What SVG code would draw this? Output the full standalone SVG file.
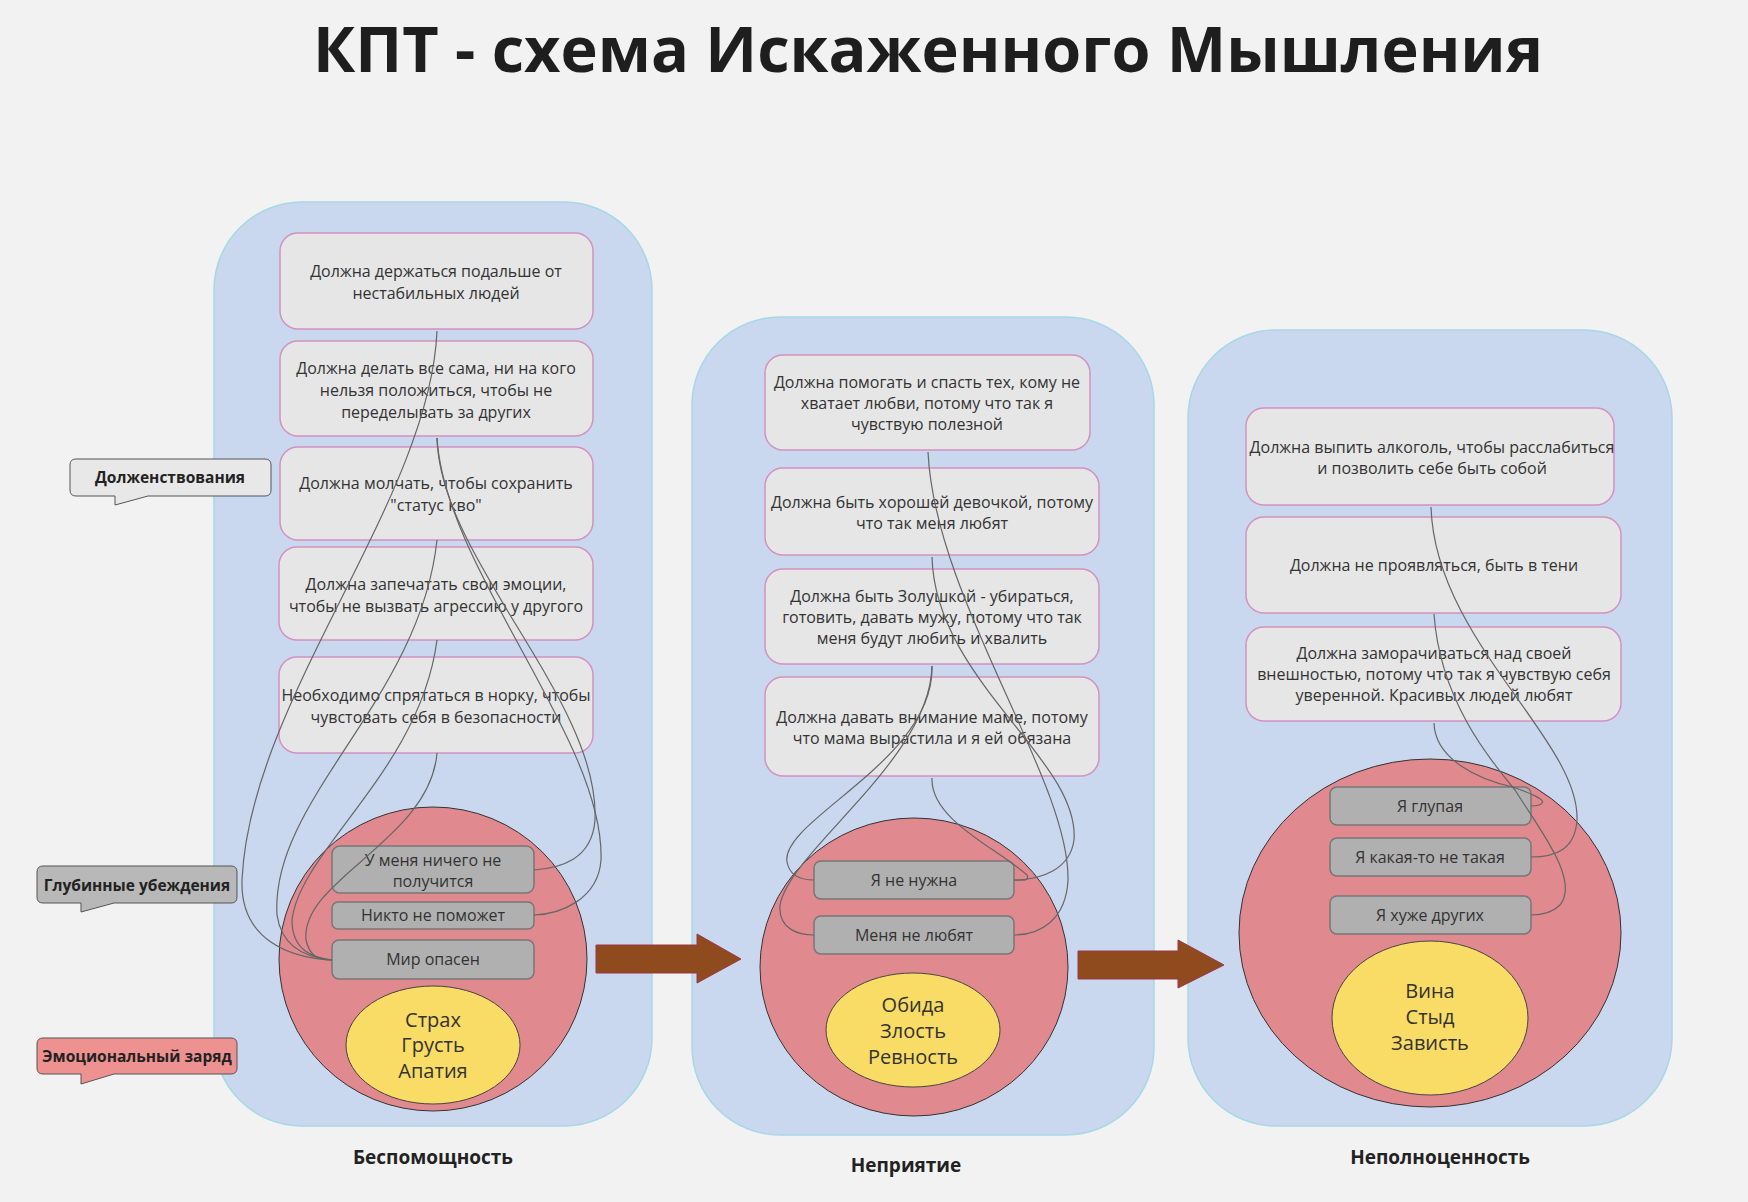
<svg xmlns="http://www.w3.org/2000/svg" width="1748" height="1202" viewBox="0 0 1748 1202">
<style>
text{font-family:"Open Sans","Noto Sans",sans-serif;fill:#333}
.t{font-size:16px;text-anchor:middle}
.g{font-size:16px;text-anchor:middle;fill:#333}
.y{font-size:20px;text-anchor:middle;fill:#333}
.lb{font-size:19px;font-weight:bold;text-anchor:middle;fill:#222}
.cl{font-size:15.5px;font-weight:bold;text-anchor:middle;fill:#222}
.cont{fill:#c9d8ef;stroke:#a6d8e6;stroke-width:1.5}
.box{fill:#e6e6e6;stroke:#d391c0;stroke-width:1.5}
.gb{fill:#b0b0b0;stroke:#777;stroke-width:1.5}
.re{fill:#e0898e;stroke:#333;stroke-width:1}
.ye{fill:#f9dc66;stroke:#444;stroke-width:1}
.ar{fill:#8f4b1e;stroke:#a0344a;stroke-width:1}
.c path{fill:none;stroke:#666;stroke-width:1.2}
</style>
<rect width="1748" height="1202" fill="#f2f2f2"/>
<text x="928" y="72" style="font-size:63px;font-weight:bold;text-anchor:middle;fill:#1e1e1e">КПТ - схема Искаженного Мышления</text>

<g id="container1"><rect class="cont" x="214" y="202" width="438" height="924" rx="88"/></g>
<g id="container2"><rect class="cont" x="692" y="317" width="462" height="818" rx="88"/></g>
<g id="container3"><rect class="cont" x="1188" y="330" width="484" height="796" rx="88"/></g>

<g id="l1"><rect class="box" x="280" y="233" width="313" height="96" rx="18"/><text class="t" x="436" y="277">Должна держаться подальше от</text><text class="t" x="436" y="299">нестабильных людей</text></g>
<g id="l2"><rect class="box" x="280" y="341" width="313" height="95" rx="18"/><text class="t" x="436" y="374">Должна делать все сама, ни на кого</text><text class="t" x="436" y="396">нельзя положиться, чтобы не</text><text class="t" x="436" y="418">переделывать за других</text></g>
<g id="l3"><rect class="box" x="280" y="447" width="313" height="93" rx="18"/><text class="t" x="436" y="489">Должна молчать, чтобы сохранить</text><text class="t" x="436" y="511">"статус кво"</text></g>
<g id="l4"><rect class="box" x="279" y="547" width="314" height="93" rx="18"/><text class="t" x="436" y="590">Должна запечатать свои эмоции,</text><text class="t" x="436" y="612">чтобы не вызвать агрессию у другого</text></g>
<g id="l5"><rect class="box" x="279" y="657" width="314" height="96" rx="18"/><text class="t" x="436" y="701">Необходимо спрятаться в норку, чтобы</text><text class="t" x="436" y="723">чувстовать себя в безопасности</text></g>

<g id="core1"><ellipse class="re" cx="433" cy="959" rx="154" ry="152"/>
<rect class="gb" x="332" y="846" width="202" height="47" rx="8"/><text class="g" x="433" y="866">У меня ничего не</text><text class="g" x="433" y="887">получится</text>
<rect class="gb" x="332" y="902" width="202" height="27" rx="6"/><text class="g" x="433" y="921">Никто не поможет</text>
<rect class="gb" x="332" y="940" width="202" height="39" rx="7"/><text class="g" x="433" y="965">Мир опасен</text>
<ellipse class="ye" cx="433" cy="1045" rx="87" ry="59"/><text class="y" x="433" y="1027">Страх</text><text class="y" x="433" y="1052">Грусть</text><text class="y" x="433" y="1078">Апатия</text></g>

<g id="m1"><rect class="box" x="765" y="355" width="325" height="95" rx="18"/><text class="t" x="927" y="388">Должна помогать и спасть тех, кому не</text><text class="t" x="927" y="409">хватает любви, потому что так я</text><text class="t" x="927" y="430">чувствую полезной</text></g>
<g id="m2"><rect class="box" x="765" y="468" width="334" height="87" rx="18"/><text class="t" x="932" y="508">Должна быть хорошей девочкой, потому</text><text class="t" x="932" y="529">что так меня любят</text></g>
<g id="m3"><rect class="box" x="765" y="569" width="334" height="95" rx="18"/><text class="t" x="932" y="602">Должна быть Золушкой - убираться,</text><text class="t" x="932" y="623">готовить, давать мужу, потому что так</text><text class="t" x="932" y="644">меня будут любить и хвалить</text></g>
<g id="m4"><rect class="box" x="765" y="677" width="334" height="99" rx="18"/><text class="t" x="932" y="723">Должна давать внимание маме, потому</text><text class="t" x="932" y="744">что мама вырастила и я ей обязана</text></g>

<g id="core2"><ellipse class="re" cx="914" cy="967" rx="154" ry="149"/>
<rect class="gb" x="814" y="861" width="200" height="38" rx="7"/><text class="g" x="914" y="886">Я не нужна</text>
<rect class="gb" x="814" y="916" width="200" height="38" rx="7"/><text class="g" x="914" y="941">Меня не любят</text>
<ellipse class="ye" cx="913" cy="1030" rx="87" ry="57"/><text class="y" x="913" y="1012">Обида</text><text class="y" x="913" y="1038">Злость</text><text class="y" x="913" y="1064">Ревность</text></g>

<g id="r1"><rect class="box" x="1246" y="408" width="368" height="97" rx="18"/><text class="t" x="1432" y="453">Должна выпить алкоголь, чтобы расслабиться</text><text class="t" x="1432" y="474">и позволить себе быть собой</text></g>
<g id="r2"><rect class="box" x="1246" y="517" width="375" height="96" rx="18"/><text class="t" x="1434" y="571">Должна не проявляться, быть в тени</text></g>
<g id="r3"><rect class="box" x="1246" y="627" width="375" height="94" rx="18"/><text class="t" x="1434" y="659">Должна заморачиваться над своей</text><text class="t" x="1434" y="680">внешностью, потому что так я чувствую себя</text><text class="t" x="1434" y="701">уверенной. Красивых людей любят</text></g>

<g id="core3"><ellipse class="re" cx="1430" cy="933" rx="191" ry="174"/>
<rect class="gb" x="1330" y="787" width="201" height="38" rx="7"/><text class="g" x="1430" y="812">Я глупая</text>
<rect class="gb" x="1330" y="838" width="201" height="38" rx="7"/><text class="g" x="1430" y="863">Я какая-то не такая</text>
<rect class="gb" x="1330" y="896" width="201" height="38" rx="7"/><text class="g" x="1430" y="921">Я хуже других</text>
<ellipse class="ye" cx="1430" cy="1018" rx="98" ry="77"/><text class="y" x="1430" y="998">Вина</text><text class="y" x="1430" y="1024">Стыд</text><text class="y" x="1430" y="1050">Зависть</text></g>

<g id="arrow1"><path class="ar" d="M596,945 H697 V934 L741,959 L697,983 V973 H596 Z"/></g>
<g id="arrow2"><path class="ar" d="M1078,951 H1178 V940 L1224,965 L1178,988 V979 H1078 Z"/></g>

<g id="label1"><text class="lb" x="433" y="1164">Беспомощность</text></g>
<g id="label2"><text class="lb" x="906" y="1172">Неприятие</text></g>
<g id="label3"><text class="lb" x="1440" y="1164">Неполноценность</text></g>

<g id="callout1"><path d="M76,459 H265 Q271,459 271,465 V490 Q271,496 265,496 H148 L115,505 L115,496 H76 Q70,496 70,490 V465 Q70,459 76,459 Z" fill="#e8e8e8" stroke="#555"/><text class="cl" x="170" y="483">Долженствования</text></g>
<g id="callout2"><path d="M43,866 H231 Q237,866 237,872 V897 Q237,903 231,903 H114 L81,912 L81,903 H43 Q37,903 37,897 V872 Q37,866 43,866 Z" fill="#b8b8b8" stroke="#555"/><text class="cl" x="137" y="891">Глубинные убеждения</text></g>
<g id="callout3"><path d="M43,1038 H231 Q237,1038 237,1044 V1068 Q237,1074 231,1074 H114 L81,1084 L81,1074 H43 Q37,1074 37,1068 V1044 Q37,1038 43,1038 Z" fill="#ee9191" stroke="#555"/><text class="cl" x="137" y="1062">Эмоциональный заряд</text></g>

<g id="connectors" class="c">
<path d="M437,331 C430,500 250,700 242,880 C240,940 290,958 332,960"/>
<path d="M437,438 C440,560 600,700 595,820 C592,860 560,868 534,870"/>
<path d="M437,438 C445,570 605,740 601,860 C598,900 560,914 534,915"/>
<path d="M437,540 C420,700 270,800 277,915 C282,950 310,958 332,960"/>
<path d="M437,640 C420,770 300,850 292,920 C292,952 315,958 332,960"/>
<path d="M437,753 C430,840 300,880 306,940 C310,958 320,960 332,960"/>
<path d="M928,452 C935,600 1070,780 1068,880 C1066,920 1040,935 1014,935"/>
<path d="M932,557 C935,680 1080,760 1074,840 C1070,870 1040,880 1014,880"/>
<path d="M932,666 C935,760 780,820 787,862 C790,878 805,880 814,880"/>
<path d="M932,666 C930,760 790,850 780,905 C778,930 800,935 814,935"/>
<path d="M932,778 C930,820 1000,850 1027,875 C1030,882 1020,880 1014,880"/>
<path d="M1431,507 C1435,640 1580,740 1577,820 C1575,850 1555,857 1531,857"/>
<path d="M1434,614 C1440,700 1490,760 1515,790 C1540,830 1580,880 1560,905 C1552,913 1540,915 1531,915"/>
<path d="M1434,723 C1435,760 1480,780 1513,787 C1535,795 1545,800 1542,803 C1540,806 1535,806 1531,806"/>
</g>
</svg>
